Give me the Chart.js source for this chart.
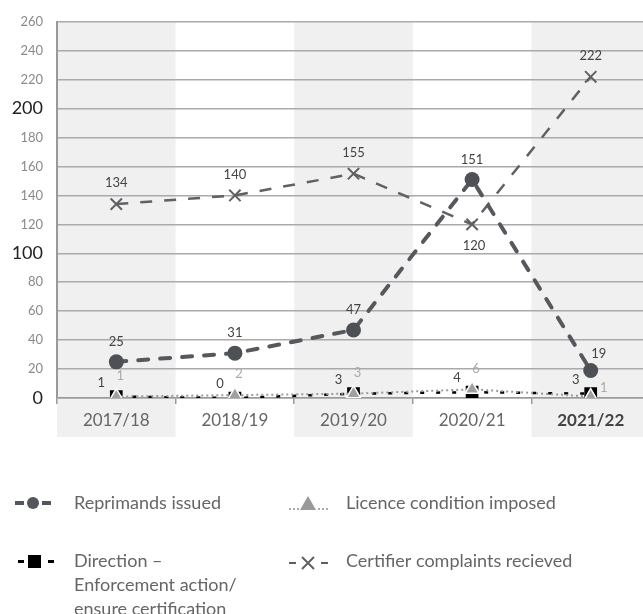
<!DOCTYPE html>
<html>
<head>
<meta charset="utf-8">
<script src="https://cdn.jsdelivr.net/npm/chart.js@4.4.1/dist/chart.umd.min.js"></script>
<style>
  html, body { margin: 0; padding: 0; background: #fff; }
  #wrap { width: 643px; height: 614px; overflow: hidden; position: relative; }
  #chart { display: block; }
</style>
</head>
<body>
<div id="wrap"><canvas id="chart" width="660" height="614"></canvas></div>
<script>
const YEARS = ['2017/18', '2018/19', '2019/20', '2020/21', '2021/22'];
const REPRIMANDS = [25, 31, 47, 151, 19];
const DIRECTION = [1, 0, 3, 4, 3];
const LICENCE = [1, 2, 3, 6, 1];
const COMPLAINTS = [134, 140, 155, 120, 222];
const Y_TICKS = [0, 20, 40, 60, 80, 100, 120, 140, 160, 180, 200, 220, 240, 260];

const FONT = 'Lato, "Open Sans", sans-serif';
const SHADED = [0, 2, 4];
const BAND_BOTTOM = 437;

// gray column bands behind everything
const bandsPlugin = {
    id: 'bands',
    beforeDraw(chart) {
        const { ctx, chartArea, scales } = chart;
        const x = scales.x;
        const w = x.getPixelForValue(1) - x.getPixelForValue(0);
        ctx.save();
        ctx.fillStyle = '#f0f0f0';
        SHADED.forEach(i => {
            const cx = x.getPixelForValue(i);
            ctx.fillRect(cx - w / 2, chartArea.top, w, BAND_BOTTOM - chartArea.top);
        });
        ctx.restore();
    },
    afterDraw(chart) {
        // x category labels (last one kept inside the visible page)
        const { ctx, scales } = chart;
        const x = scales.x;
        ctx.save();
        ctx.textBaseline = 'middle';
        ctx.textAlign = 'center';
        YEARS.forEach((lab, i) => {
            const last = i === YEARS.length - 1;
            ctx.font = (last ? 'bold ' : '') + '17px ' + FONT;
            ctx.fillStyle = last ? '#444' : '#666';
            let cx = x.getPixelForValue(i);
            const tw = ctx.measureText(lab).width;
            if (cx + tw / 2 > 636) cx = 636 - tw / 2;
            ctx.fillText(lab, cx, 421);
        });
        ctx.restore();
    }
};

// value labels next to the points
const labelsPlugin = {
    id: 'valueLabels',
    afterDatasetsDraw(chart) {
        const { ctx } = chart;
        ctx.save();
        ctx.font = '13px ' + FONT;
        ctx.textAlign = 'center';
        ctx.textBaseline = 'middle';
        chart.data.datasets.forEach((ds, di) => {
            const meta = chart.getDatasetMeta(di);
            meta.data.forEach((pt, i) => {
                let off = ds.labelOffset;
                if (ds.labelOffsetAt && ds.labelOffsetAt[i]) off = ds.labelOffsetAt[i];
                ctx.fillStyle = ds.labelColor;
                ctx.fillText(String(ds.data[i]), pt.x + off[0], pt.y + off[1]);
            });
        });
        ctx.restore();
    }
};

// legend drawn underneath the plot
const legendPlugin = {
    id: 'customLegend',
    afterDraw(chart) {
        const { ctx } = chart;
        ctx.save();
        ctx.font = '18px ' + FONT;
        ctx.fillStyle = '#666';
        ctx.textAlign = 'left';
        ctx.textBaseline = 'middle';
        ctx.fillText('Reprimands issued', 74, 503);
        ctx.fillText('Licence condition imposed', 346, 503);
        ctx.fillText('Direction \u2013', 74, 561);
        ctx.fillText('Enforcement action/', 74, 585);
        ctx.fillText('ensure certification', 74, 609);
        ctx.fillText('Certifier complaints recieved', 346, 561);

        // reprimands icon
        ctx.fillStyle = '#53565a';
        ctx.fillRect(15, 501, 9, 4);
        ctx.fillRect(42, 501, 9, 4);
        ctx.beginPath();
        ctx.arc(33, 503, 6, 0, Math.PI * 2);
        ctx.fill();

        // direction icon
        ctx.fillStyle = '#000';
        ctx.fillRect(18, 560, 6, 3);
        ctx.fillRect(28, 555, 13, 13);
        ctx.fillRect(48, 560, 6, 3);

        // licence icon
        ctx.fillStyle = '#aaa';
        [289, 293, 297, 318, 322, 326].forEach(px => ctx.fillRect(px, 508, 2, 2));
        ctx.fillStyle = '#999';
        ctx.beginPath();
        ctx.moveTo(308, 496);
        ctx.lineTo(316, 510);
        ctx.lineTo(300, 510);
        ctx.closePath();
        ctx.fill();

        // complaints icon
        ctx.fillStyle = '#5f6063';
        ctx.fillRect(289, 562, 7, 2);
        ctx.fillRect(321, 562, 7, 2);
        ctx.strokeStyle = '#5f6063';
        ctx.lineWidth = 2;
        ctx.beginPath();
        ctx.moveTo(302, 557); ctx.lineTo(314, 569);
        ctx.moveTo(314, 557); ctx.lineTo(302, 569);
        ctx.stroke();
        ctx.restore();
    }
};

new Chart(document.getElementById('chart'), {
    type: 'line',
    data: {
        labels: YEARS,
        datasets: [
            {
                label: 'Licence condition imposed',
                data: LICENCE,
                order: 0,
                borderColor: '#9a9a9a',
                borderWidth: 2,
                borderDash: [2, 3],
                pointStyle: 'triangle',
                pointRadius: 8,
                pointBackgroundColor: '#a0a0a0',
                pointBorderColor: '#fff',
                pointBorderWidth: 1.5,
                labelColor: '#aaa',
                labelOffset: [4, -21],
                labelOffsetAt: { 4: [13, -9] }
            },
            {
                label: 'Direction \u2013 Enforcement action/ ensure certification',
                data: DIRECTION,
                order: 1,
                borderColor: '#000',
                borderWidth: 2.5,
                borderDash: [4, 12],
                pointStyle: 'rect',
                pointRadius: 9,
                pointBackgroundColor: '#000',
                pointBorderColor: '#000',
                pointBorderWidth: 0,
                labelColor: '#444',
                labelOffset: [-15, -14]
            },
            {
                label: 'Reprimands issued',
                data: REPRIMANDS,
                order: 2,
                borderColor: '#55585c',
                borderWidth: 4,
                borderDash: [10, 12],
                borderCapStyle: 'round',
                pointStyle: 'circle',
                pointRadius: 7.5,
                pointBackgroundColor: '#4d5055',
                pointBorderColor: '#4d5055',
                pointBorderWidth: 0,
                labelColor: '#444',
                labelOffset: [0, -20],
                labelOffsetAt: { 4: [8, -17] }
            },
            {
                label: 'Certifier complaints recieved',
                data: COMPLAINTS,
                order: 3,
                borderColor: '#606164',
                borderWidth: 2.5,
                borderDash: [12, 12],
                pointStyle: 'crossRot',
                pointRadius: 8,
                pointBorderColor: '#606164',
                pointBorderWidth: 2,
                labelColor: '#444',
                labelOffset: [0, -21],
                labelOffsetAt: { 3: [2, 21] }
            }
        ]
    },
    options: {
        responsive: false,
        animation: false,
        layout: { padding: { left: 0, top: 18, right: 3, bottom: 614 - BAND_BOTTOM } },
        plugins: {
            legend: { display: false },
            tooltip: { enabled: false }
        },
        scales: {
            x: {
                offset: true,
                afterFit(scale) { scale.height = BAND_BOTTOM - 398; },
                grid: {
                    offset: true,
                    drawOnChartArea: false,
                    drawTicks: true,
                    tickLength: 6,
                    color: '#999',
                    lineWidth: 1.5
                },
                border: { display: true, color: '#999', width: 1.5 },
                ticks: { display: false }
            },
            y: {
                min: 0,
                max: 260,
                afterFit(scale) { scale.width = 57; },
                afterBuildTicks(scale) { scale.ticks = Y_TICKS.map(v => ({ value: v })); },
                grid: { color: '#aaa', lineWidth: 1.5, drawTicks: false },
                border: { display: true, color: '#999', width: 2 },
                ticks: {
                    padding: 14,
                    color: ctx => (ctx.tick && ctx.tick.value % 100 === 0) ? '#222' : '#8a8a8a',
                    font: ctx => (ctx.tick && ctx.tick.value % 100 === 0)
                        ? { family: FONT, size: 18 }
                        : { family: FONT, size: 13 }
                }
            }
        }
    },
    plugins: [bandsPlugin, labelsPlugin, legendPlugin]
});
</script>
</body>
</html>
